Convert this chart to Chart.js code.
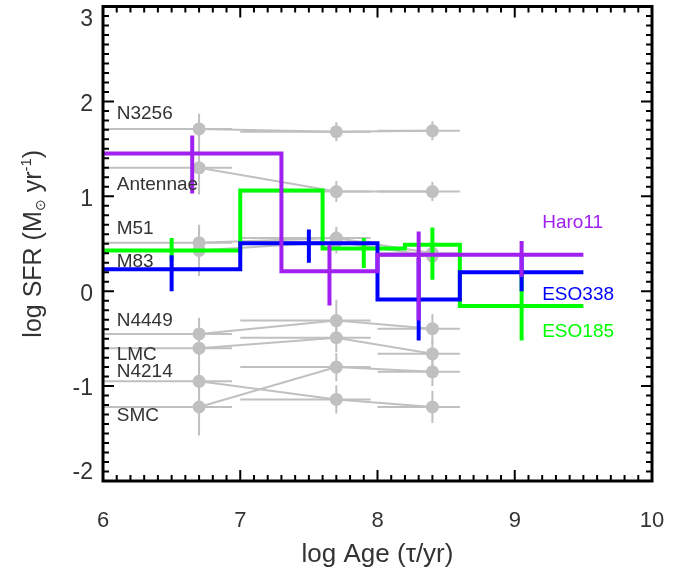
<!DOCTYPE html>
<html><head><meta charset="utf-8">
<script src="https://cdn.jsdelivr.net/npm/chart.js@4.4.0/dist/chart.umd.min.js"></script>
<style>html,body{margin:0;padding:0;background:#fff}</style>
</head><body>
<canvas id="c" width="694" height="575"></canvas>
<script>
// ---------- data ----------
const xTickValues = [6, 7, 8, 9, 10];
const yTickValues = [-2, -1, 0, 1, 2, 3];

// comparison galaxies (grey): three age bins
const galaxyNames = ['N3256', 'Antennae', 'M51', 'M83', 'N4449', 'LMC', 'N4214', 'SMC'];
const binAge  = [6.7, 7.7, 8.4];
const binLow  = [6.0, 7.0, 8.0];
const binHigh = [6.94, 7.95, 8.6];
const sfrN3256    = [1.71, 1.68, 1.69];   const errN3256    = [0.16, 0.10, 0.10];
const sfrAntennae = [1.30, 1.05, 1.05];   const errAntennae = [0.28, 0.11, 0.10];
const sfrM51      = [0.51, 0.56, 0.40];   const errM51      = [0.17, 0.12, 0.12];
const sfrM83      = [0.43, 0.52, 0.37];   const errM83      = [0.27, 0.12, 0.12];
const sfrN4449    = [-0.45, -0.31, -0.395]; const errN4449  = [0.17, 0.22, 0.155];
const sfrLMC      = [-0.60, -0.49, -0.66];  const errLMC    = [0.17, 0.15, 0.15];
const sfrN4214    = [-0.95, -1.14, -1.22];  const errN4214  = [0.20, 0.15, 0.17];
const sfrSMC      = [-1.22, -0.80, -0.85];  const errSMC    = [0.30, 0.15, 0.15];

// Haro11 (purple)
const haroEdges  = [6.0, 7.3, 8.0, 9.5];
const haroSFR    = [1.45, 0.21, 0.385];
const haroErrAge = [6.65, 7.65, 8.30, 9.05];
const haroErrLo  = [1.03, -0.15, -0.31, 0.15];
const haroErrHi  = [1.64, 0.49, 0.63, 0.53];
// ESO338 (blue)
const eso338Edges  = [6.0, 7.0, 8.0, 8.6, 9.5];
const eso338SFR    = [0.23, 0.506, -0.087, 0.20];
const eso338ErrAge = [6.5, 7.5, 8.3, 9.05];
const eso338ErrLo  = [0.0, 0.30, -0.52, 0.0];
const eso338ErrHi  = [0.38, 0.65, 0.35, 0.40];
// ESO185 (green)
const eso185Edges  = [6.0, 7.0, 7.6, 8.2, 8.6, 9.5];
const eso185SFR    = [0.43, 1.06, 0.45, 0.49, -0.155];
const eso185ErrAge = [6.5, 7.9, 8.4, 9.05];
const eso185ErrLo  = [0.32, 0.245, 0.12, -0.52];
const eso185ErrHi  = [0.56, 0.56, 0.67, 0.22];

// ---------- helpers ----------
const greySfr = [sfrN3256, sfrAntennae, sfrM51, sfrM83, sfrN4449, sfrLMC, sfrN4214, sfrSMC];
const greyErr = [errN3256, errAntennae, errM51, errM83, errN4449, errLMC, errN4214, errSMC];

function stepData(edges, levels) {
  const d = levels.map((v, i) => ({x: edges[i], y: v}));
  d.push({x: edges[edges.length - 1], y: levels[levels.length - 1]});
  return d;
}
function vBars(xs, lo, hi) {
  const d = [];
  xs.forEach((x, i) => { d.push({x, y: lo[i]}, {x, y: hi[i]}, {x, y: null}); });
  return d;
}
const GREY = '#c0c0c0', PURPLE = '#a020f0', BLUE = '#0000ff', GREEN = '#00ff00';
const FONT = '"Liberation Sans", Arial, sans-serif';

const datasets = [];
function lineDs(data, color, width, order, extra) {
  return Object.assign({type: 'scatter', data, showLine: true, borderColor: color,
    backgroundColor: color, borderWidth: width, pointRadius: 0, pointHoverRadius: 0,
    spanGaps: false, order, borderCapStyle: 'butt', borderJoinStyle: 'miter'}, extra || {});
}
// coloured histograms (purple on top, then blue, then green)
datasets.push(lineDs(stepData(haroEdges, haroSFR), PURPLE, 4, 1, {stepped: true, label: 'Haro11'}));
datasets.push(lineDs(vBars(haroErrAge, haroErrLo, haroErrHi), PURPLE, 4, 1));
datasets.push(lineDs(stepData(eso338Edges, eso338SFR), BLUE, 4, 2, {stepped: true, label: 'ESO338'}));
datasets.push(lineDs(vBars(eso338ErrAge, eso338ErrLo, eso338ErrHi), BLUE, 4, 2));
datasets.push(lineDs(stepData(eso185Edges, eso185SFR), GREEN, 4, 3, {stepped: true, label: 'ESO185'}));
datasets.push(lineDs(vBars(eso185ErrAge, eso185ErrLo, eso185ErrHi), GREEN, 4, 3));
// grey galaxies
greySfr.forEach((sfr, g) => {
  const err = greyErr[g];
  const bars = [];
  sfr.forEach((v, i) => {
    bars.push({x: binLow[i], y: v}, {x: binHigh[i], y: v}, {x: binLow[i], y: null});
    bars.push({x: binAge[i], y: v - err[i]}, {x: binAge[i], y: v + err[i]}, {x: binAge[i], y: null});
  });
  datasets.push(lineDs(bars, GREY, 2, 10));
  datasets.push(lineDs(sfr.map((v, i) => ({x: binAge[i], y: v})), GREY, 2, 9,
    {pointRadius: 6.5, pointBorderWidth: 0, pointBackgroundColor: GREY, label: galaxyNames[g]}));
});

// ---------- text annotations (data coordinates) ----------
const annotations = [
  {t: 'N3256', x: 6.1, y: 1.87, c: '#333'},
  {t: 'Antennae', x: 6.1, y: 1.12, c: '#333'},
  {t: 'M51', x: 6.1, y: 0.66, c: '#333'},
  {t: 'M83', x: 6.1, y: 0.31, c: '#333'},
  {t: 'N4449', x: 6.1, y: -0.31, c: '#333'},
  {t: 'LMC', x: 6.1, y: -0.67, c: '#333'},
  {t: 'N4214', x: 6.1, y: -0.85, c: '#333'},
  {t: 'SMC', x: 6.1, y: -1.31, c: '#333'},
  {t: 'Haro11', x: 9.2, y: 0.72, c: PURPLE},
  {t: 'ESO338', x: 9.2, y: -0.035, c: BLUE},
  {t: 'ESO185', x: 9.2, y: -0.43, c: GREEN}
];
// y-axis title pieces: [text, size, baseline shift]
const yTitleParts = [['log SFR (M', 25, 0], ['⊙', 14, 4], [' yr', 25, 0], ['-1', 15, -10], [')', 25, 0]];

const annotPlugin = {
  id: 'annot',
  afterDatasetsDraw(chart) {
    const {ctx, scales: {x, y}} = chart;
    ctx.save();
    ctx.font = '19px ' + FONT;
    ctx.textBaseline = 'middle';
    ctx.textAlign = 'left';
    annotations.forEach(a => {
      ctx.fillStyle = a.c;
      ctx.fillText(a.t, x.getPixelForValue(a.x), y.getPixelForValue(a.y));
    });
    ctx.restore();
  }
};
const framePlugin = {
  id: 'frame',
  afterDraw(chart) {
    const {ctx, chartArea: a, scales: {x, y}} = chart;
    ctx.save();
    ctx.strokeStyle = '#000';
    ctx.lineWidth = 2;
    ctx.beginPath();
    x.ticks.forEach(t => {
      const v = t.value, px = x.getPixelForValue(v);
      const L = Math.abs(v - Math.round(v)) < 1e-6 ? 11 : 6;
      ctx.moveTo(px, a.bottom); ctx.lineTo(px, a.bottom - L);
      ctx.moveTo(px, a.top); ctx.lineTo(px, a.top + L);
    });
    y.ticks.forEach(t => {
      const v = t.value, py = y.getPixelForValue(v);
      const L = Math.abs(v - Math.round(v)) < 1e-6 ? 11 : 6;
      ctx.moveTo(a.left, py); ctx.lineTo(a.left + L, py);
      ctx.moveTo(a.right, py); ctx.lineTo(a.right - L, py);
    });
    ctx.stroke();
    ctx.lineWidth = 3;
    ctx.strokeRect(a.left, a.top, a.right - a.left, a.bottom - a.top);
    // y tick labels from the axis ticks, kept inside the frame height
    ctx.fillStyle = '#333';
    ctx.font = '23px ' + FONT;
    ctx.textAlign = 'right';
    ctx.textBaseline = 'middle';
    y.ticks.forEach(t => {
      if (!t.label) return;
      let cy = y.getPixelForValue(t.value) + 3;
      cy = Math.max(a.top + 13, Math.min(a.bottom - 8, cy));
      ctx.fillText(t.label, a.left - 10, cy);
    });
    // y axis title with subscript sun symbol and superscript -1
    let total = 0;
    yTitleParts.forEach(p => { ctx.font = p[1] + 'px ' + FONT; total += ctx.measureText(p[0]).width; });
    ctx.translate(41, (a.top + a.bottom) / 2);
    ctx.rotate(-Math.PI / 2);
    ctx.textAlign = 'left';
    ctx.textBaseline = 'alphabetic';
    let u = -total / 2;
    yTitleParts.forEach(p => {
      ctx.font = p[1] + 'px ' + FONT;
      ctx.fillText(p[0], u, p[2]);
      u += ctx.measureText(p[0]).width;
    });
    ctx.restore();
  }
};

const near = (v, list) => list.find(t => Math.abs(t - v) < 1e-6);

new Chart(document.getElementById('c'), {
  type: 'scatter',
  data: {datasets},
  options: {
    responsive: false, animation: false, devicePixelRatio: 1,
    layout: {padding: {top: 4, right: 42, left: 0, bottom: 0}},
    plugins: {legend: {display: false}, tooltip: {enabled: false}},
    scales: {
      x: {
        type: 'linear', min: 6, max: 10,
        grid: {display: false, drawTicks: false}, border: {display: false},
        ticks: {stepSize: 0.1, autoSkip: false, maxRotation: 0, padding: 27,
          color: '#333', font: {family: FONT, size: 22},
          callback: v => { const t = near(v, xTickValues); return t === undefined ? '' : String(t); }},
        title: {display: true, text: 'log Age (τ/yr)', color: '#333',
          font: {family: FONT, size: 26}, padding: {top: 0, bottom: 5}},
        afterFit: s => { s.height = 94; s.paddingLeft = 0; s.paddingRight = 0; }
      },
      y: {
        type: 'linear', min: -2, max: 3,
        grid: {display: false, drawTicks: false}, border: {display: false},
        ticks: {display: false, stepSize: 0.1, autoSkip: false,
          callback: v => { const t = near(v, yTickValues); return t === undefined ? '' : String(t); }},
        title: {display: false, text: 'log SFR (M⊙ yr-1)'},
        afterFit: s => { s.width = 103; s.paddingTop = 0; s.paddingBottom = 0; }
      }
    }
  },
  plugins: [annotPlugin, framePlugin]
});
</script>
</body></html>
